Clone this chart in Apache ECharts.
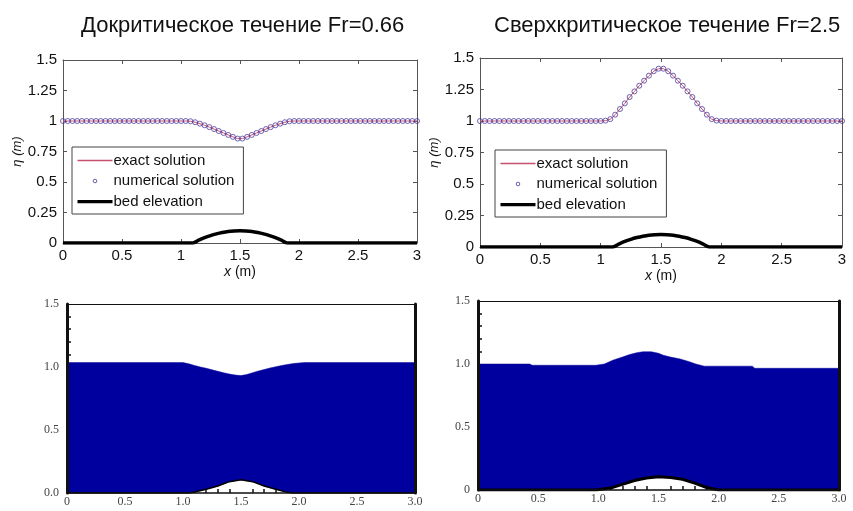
<!DOCTYPE html>
<html>
<head>
<meta charset="utf-8">
<script src="https://cdn.jsdelivr.net/npm/echarts@6/dist/echarts.min.js"></script>
<style>
  html, body { margin: 0; padding: 0; background: #fff; }
  #chart { width: 853px; height: 511px; }
</style>
</head>
<body>
<div id="chart"></div>
<script>
// панельные заголовки
const titles = ["Докритическое течение Fr=0.66", "Сверхкритическое течение Fr=2.5"];
const legendNames = ["exact solution", "numerical solution", "bed elevation"];

// верхние графики: сетка x и уровень воды (м)
const xs = [0, 0.04, 0.08, 0.12, 0.16, 0.2, 0.24, 0.28, 0.32, 0.36, 0.4, 0.44, 0.48, 0.52, 0.56, 0.6,
  0.64, 0.68, 0.72, 0.76, 0.8, 0.84, 0.88, 0.92, 0.96, 1, 1.04, 1.08, 1.12, 1.16, 1.2, 1.24, 1.28,
  1.32, 1.36, 1.4, 1.44, 1.48, 1.52, 1.56, 1.6, 1.64, 1.68, 1.72, 1.76, 1.8, 1.84, 1.88, 1.92, 1.96,
  2, 2.04, 2.08, 2.12, 2.16, 2.2, 2.24, 2.28, 2.32, 2.36, 2.4, 2.44, 2.48, 2.52, 2.56, 2.6, 2.64,
  2.68, 2.72, 2.76, 2.8, 2.84, 2.88, 2.92, 2.96, 3];
const etaSub = [1, 1, 1, 1, 1, 1, 1, 1, 1, 1, 1, 1, 1, 1, 1, 1, 1, 1, 1, 1, 1, 1, 1, 1, 1, 1, 1,
  0.998, 0.99, 0.978, 0.965, 0.95, 0.934, 0.918, 0.902, 0.886, 0.87, 0.856, 0.856, 0.87, 0.886,
  0.902, 0.918, 0.934, 0.95, 0.965, 0.978, 0.99, 0.998,
  1, 1, 1, 1, 1, 1, 1, 1, 1, 1, 1, 1, 1, 1, 1, 1, 1, 1, 1, 1, 1, 1, 1, 1, 1, 1, 1];
const etaSuper = [1, 1, 1, 1, 1, 1, 1, 1, 1, 1, 1, 1, 1, 1, 1, 1, 1, 1, 1, 1, 1, 1, 1, 1, 1, 1,
  1.003, 1.015, 1.05, 1.095, 1.14, 1.19, 1.235, 1.28, 1.32, 1.36, 1.395, 1.415, 1.415, 1.395, 1.36,
  1.32, 1.28, 1.235, 1.19, 1.14, 1.095, 1.05, 1.015, 1.003,
  1, 1, 1, 1, 1, 1, 1, 1, 1, 1, 1, 1, 1, 1, 1, 1, 1, 1, 1, 1, 1, 1, 1, 1, 1, 1];
const bedX = [0, 1.1, 1.15, 1.2, 1.25, 1.3, 1.35, 1.4, 1.45, 1.5, 1.55, 1.6, 1.65, 1.7, 1.75, 1.8, 1.85, 1.9, 3];
const bedZ = [0, 0, 0.023, 0.044, 0.061, 0.075, 0.086, 0.094, 0.098, 0.1, 0.098, 0.094, 0.086, 0.075, 0.061, 0.044, 0.023, 0, 0];

// нижние графики (заливка)
const wlX = [0, 1.0, 1.05, 1.1, 1.15, 1.2, 1.25, 1.3, 1.35, 1.4, 1.45, 1.5, 1.55, 1.6, 1.65, 1.7, 1.75, 1.8, 1.85, 1.9, 1.95, 2.0, 2.05, 3.0];
const wlY = [1.035, 1.035, 1.025, 1.012, 1.0, 0.99, 0.978, 0.966, 0.954, 0.944, 0.936, 0.932, 0.94, 0.955, 0.968, 0.98, 0.992, 1.002, 1.012, 1.02, 1.027, 1.032, 1.035, 1.035];
const blX = [0, 1.05, 1.1, 1.2, 1.3, 1.4, 1.5, 1.6, 1.7, 1.8, 1.9, 1.95, 3.0];
const blZ = [0, 0, 0.008, 0.03, 0.055, 0.09, 0.105, 0.09, 0.055, 0.03, 0.005, 0, 0];
const wrX = [0, 0.43, 0.45, 0.98, 1.05, 1.12, 1.2, 1.26, 1.32, 1.37, 1.44, 1.5, 1.54, 1.6, 1.68, 1.75, 1.81, 1.88, 2.28, 2.3, 3.0];
const wrY = [1.0, 1.0, 0.99, 0.99, 1.0, 1.03, 1.055, 1.075, 1.09, 1.097, 1.097, 1.085, 1.07, 1.055, 1.04, 1.02, 1.0, 0.983, 0.983, 0.966, 0.966];
const brX = [0, 0.98, 1.1, 1.2, 1.3, 1.4, 1.5, 1.6, 1.7, 1.8, 1.9, 2.0, 3.0];
const brZ = [0, 0, 0.015, 0.045, 0.075, 0.095, 0.105, 0.1, 0.085, 0.055, 0.02, 0, 0];

const zip = (a, b) => a.map((v, i) => [v, b[i]]);

const exactColor = "#c8506e";
const numColor = "#4b3c9e";
const waterColor = "#00009e";
const sans = "Liberation Sans";
const serif = "Liberation Serif";

const chart = echarts.init(document.getElementById("chart"));

// matlab-подобные оси
function topX(grid, pos) {
  const main = pos === "bottom";
  return {
    gridIndex: grid, type: "value", position: pos, min: 0, max: 3, interval: 0.5,
    axisLine: { show: true, onZero: false, lineStyle: { color: "#555", width: 1 } },
    axisTick: { show: true, inside: true, length: 4, lineStyle: { color: "#555" } },
    axisLabel: { show: main, color: "#111", fontFamily: sans, fontSize: 15, margin: 5 },
    splitLine: { show: false },
    name: main ? "{i|x} (m)" : "",
    nameLocation: "middle", nameGap: 22,
    nameTextStyle: { color: "#111", fontFamily: sans, fontSize: 14, rich: { i: { fontStyle: "italic", fontFamily: sans, fontSize: 14, color: "#111" } } },
  };
}
function topY(grid, pos) {
  const main = pos === "left";
  return {
    gridIndex: grid, type: "value", position: pos, min: 0, max: 1.5, interval: 0.25,
    axisLine: { show: true, onZero: false, lineStyle: { color: "#555", width: 1 } },
    axisTick: { show: true, inside: true, length: 4, lineStyle: { color: "#555" } },
    axisLabel: { show: main, color: "#111", fontFamily: sans, fontSize: 15, margin: 6 },
    splitLine: { show: false },
    name: main ? "η (m)" : "",
    nameLocation: "middle", nameGap: 39,
    nameTextStyle: { color: "#111", fontFamily: sans, fontSize: 13, fontStyle: "italic" },
  };
}
// нижние: ось с подписями поверх заливки, засечки под ней
function botX(grid, kind) {
  const main = kind === "main";
  return {
    gridIndex: grid, type: "value", position: kind === "top" ? "top" : "bottom",
    min: 0, max: 3, interval: 0.5, z: kind === "ticks" ? 0 : 12,
    axisLine: { show: kind !== "ticks", onZero: false, lineStyle: { color: "#111", width: main ? 1.5 : 1 } },
    axisTick: { show: false, inside: true },
    minorTick: { show: kind === "ticks", splitNumber: 5, length: 4, lineStyle: { color: "#111", width: 1.5 } },
    axisLabel: { show: main, color: "#444", fontFamily: serif, fontSize: 12, margin: 3,
      formatter: v => v === 0 ? "0" : v.toFixed(1) },
    splitLine: { show: false },
  };
}
function botY(grid, kind, zeroLabel) {
  const main = kind === "main";
  return {
    gridIndex: grid, type: "value", position: kind === "right" ? "right" : "left",
    min: 0, max: 1.5, interval: 0.5, z: kind === "ticks" ? 0 : 12,
    axisLine: { show: kind !== "ticks", onZero: false, lineStyle: { color: "#111", width: 3 } },
    axisTick: { show: false, inside: true },
    minorTick: { show: kind === "ticks", splitNumber: 5, length: 4, lineStyle: { color: "#111", width: 1.5 } },
    axisLabel: { show: main, color: "#444", fontFamily: serif, fontSize: 12, margin: 8,
      formatter: v => v === 0 ? zeroLabel : v.toFixed(1) },
    splitLine: { show: false },
  };
}

// у каждой панели своя легенда, имена различаются невидимым суффиксом
function legendAt(left, top, suffix) {
  return {
    orient: "vertical", left: left, top: top,
    backgroundColor: "#fff", borderColor: "#444", borderWidth: 1,
    padding: [6, 9, 5, 5], itemGap: 5, itemWidth: 35, itemHeight: 15,
    textStyle: { color: "#111", fontFamily: sans, fontSize: 15, padding: [0, 0, 0, -4] },
    selectedMode: false,
    formatter: name => name.trim(),
    data: [
      { name: legendNames[0] + suffix, icon: "path://M0,0M35,15M0,6.8h35v1.4h-35z",
        itemStyle: { color: exactColor, borderWidth: 0 } },
      { name: legendNames[1] + suffix, icon: "path://M0,0M35,15M15.7,7.5a1.8,1.8 0 1,0 3.6,0a1.8,1.8 0 1,0 -3.6,0z",
        itemStyle: { color: "rgba(0,0,0,0)", borderColor: numColor, borderWidth: 1 } },
      { name: legendNames[2] + suffix, icon: "path://M0,0M35,15M0,6h35v3.2h-35z",
        itemStyle: { color: "#000", borderWidth: 0 } },
    ],
  };
}

function topSeries(grid, eta, suffix) {
  return [
    { name: legendNames[0] + suffix, type: "line", xAxisIndex: grid * 2, yAxisIndex: grid * 2,
      data: zip(xs, eta), symbol: "none", lineStyle: { color: exactColor, width: 1 },
      itemStyle: { color: exactColor }, z: 3 },
    { name: legendNames[1] + suffix, type: "scatter", xAxisIndex: grid * 2, yAxisIndex: grid * 2,
      data: zip(xs, eta), symbol: "circle", symbolSize: 5,
      itemStyle: { color: "rgba(0,0,0,0)", borderColor: numColor, borderWidth: 1 }, z: 4 },
    { name: legendNames[2] + suffix, type: "line", xAxisIndex: grid * 2, yAxisIndex: grid * 2,
      data: zip(bedX, bedZ), symbol: "none", smooth: 0.3,
      lineStyle: { color: "#000", width: 3.5 }, itemStyle: { color: "#000" }, z: 3 },
  ];
}
// вода внизу: полигон между поверхностью и дном (через шкалы осей), дно — чёрный контур
function botSeries(axisBase, wx, wy, bx, bz, bedWidth) {
  const surf = zip(wx, wy);
  const bed = zip(bx, bz);
  return [
    { type: "custom", xAxisIndex: axisBase, yAxisIndex: axisBase, data: surf, z: 2,
      silent: true,
      renderItem: (params, api) => {
        if (params.dataIndex !== 0) return null;
        const pts = surf.map(p => api.coord(p))
          .concat(bed.slice().reverse().map(p => api.coord(p)));
        return { type: "polygon", shape: { points: pts }, style: { fill: waterColor, stroke: waterColor, lineWidth: 0.5 } };
      } },
    { type: "line", xAxisIndex: axisBase, yAxisIndex: axisBase, data: bed,
      symbol: "none", lineStyle: { color: "#000", width: bedWidth }, z: 10 },
  ];
}

chart.setOption({
  animation: false,
  title: [
    { text: titles[0], left: 76, top: 10, textStyle: { color: "#111", fontFamily: sans, fontSize: 22, fontWeight: "normal" } },
    { text: titles[1], left: 489, top: 10, textStyle: { color: "#111", fontFamily: sans, fontSize: 22, fontWeight: "normal" } },
  ],
  grid: [
    { left: 63, right: 436, top: 60, bottom: 268 },
    { left: 480, right: 11, top: 58, bottom: 264 },
    { left: 67, right: 438, top: 304, bottom: 18 },
    { left: 478, right: 14, top: 301, bottom: 21 },
  ],
  xAxis: [
    topX(0, "bottom"), topX(0, "top"),
    topX(1, "bottom"), topX(1, "top"),
    botX(2, "main"), botX(2, "top"), botX(2, "ticks"),
    botX(3, "main"), botX(3, "top"), botX(3, "ticks"),
  ],
  yAxis: [
    topY(0, "left"), topY(0, "right"),
    topY(1, "left"), topY(1, "right"),
    botY(2, "main", "0.0"), botY(2, "right", "0.0"), botY(2, "ticks", "0.0"),
    botY(3, "main", "0"), botY(3, "right", "0"), botY(3, "ticks", "0"),
  ],
  legend: [legendAt(72, 147, ""), legendAt(495, 150, " ")],
  series: [
    ...topSeries(0, etaSub, ""),
    ...topSeries(1, etaSuper, " "),
    ...botSeries(4, wlX, wlY, blX, blZ, 1.5),
    ...botSeries(7, wrX, wrY, brX, brZ, 3),
  ],
});
</script>
</body>
</html>
